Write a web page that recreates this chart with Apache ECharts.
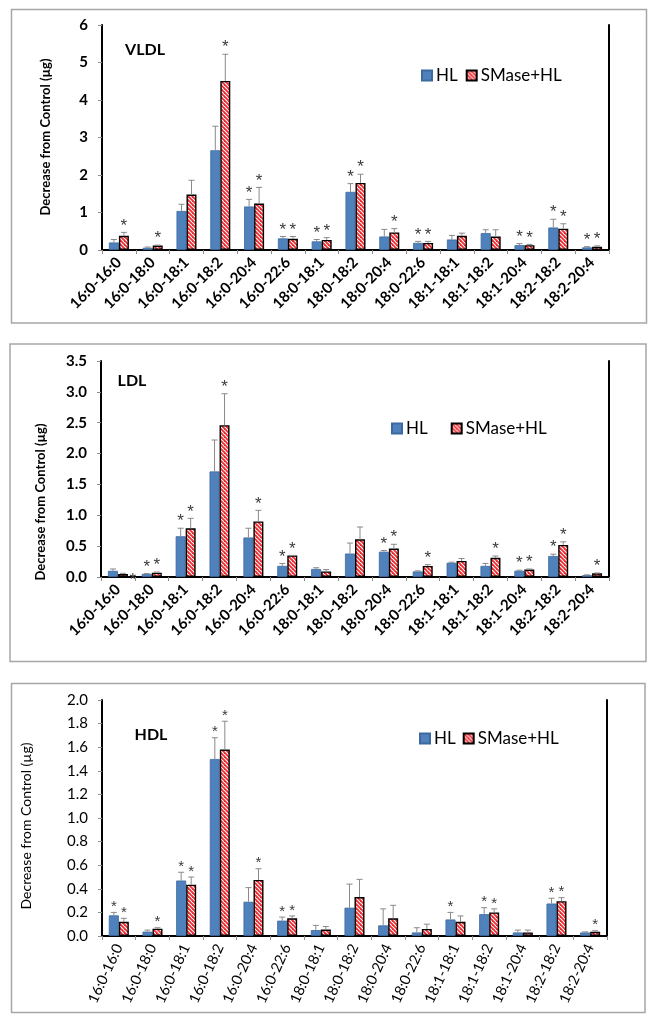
<!DOCTYPE html>
<html><head><meta charset="utf-8">
<script src="https://cdn.jsdelivr.net/npm/echarts@6/dist/echarts.min.js"></script>
<style>html,body{margin:0;padding:0;background:#fff}#c{width:659px;height:1024px}</style>
</head><body><div id="c"></div>
<script>
// ---------- DATA ----------
var categories = ['16:0-16:0','16:0-18:0','16:0-18:1','16:0-18:2','16:0-20:4','16:0-22:6','18:0-18:1','18:0-18:2','18:0-20:4','18:0-22:6','18:1-18:1','18:1-18:2','18:1-20:4','18:2-18:2','18:2-20:4'];
var seriesNames = ['HL','SMase+HL'];

var vldlHL      = [0.20,0.06,1.04,2.66,1.16,0.31,0.23,1.55,0.36,0.19,0.28,0.45,0.13,0.60,0.07];
var vldlHLErr   = [0.28,0.08,1.22,3.30,1.35,0.36,0.28,1.77,0.55,0.23,0.39,0.54,0.17,0.82,0.09];
var vldlHLStar  = [0,0,0,0,1,1,1,1,0,1,0,0,1,1,1];
var vldlSM      = [0.38,0.12,1.48,4.51,1.24,0.30,0.27,1.79,0.47,0.19,0.38,0.36,0.13,0.57,0.09];
var vldlSMErr   = [0.47,0.13,1.86,5.22,1.67,0.36,0.33,2.02,0.57,0.23,0.45,0.54,0.15,0.70,0.11];
var vldlSMStar  = [1,1,0,1,1,1,1,1,1,1,0,0,1,1,1];

var ldlHL       = [0.10,0.05,0.66,1.71,0.64,0.18,0.13,0.38,0.41,0.09,0.23,0.18,0.10,0.34,0.03];
var ldlHLErr    = [0.13,0.055,0.79,2.22,0.79,0.22,0.15,0.55,0.43,0.10,0.24,0.22,0.11,0.37,0.035];
var ldlHLStar   = [0,1,1,0,0,1,0,0,1,0,0,0,1,1,0];
var ldlSM       = [0.05,0.07,0.79,2.46,0.90,0.35,0.09,0.61,0.46,0.18,0.26,0.31,0.12,0.52,0.06];
var ldlSMErr    = [0.06,0.08,0.95,2.97,1.08,0.35,0.12,0.81,0.53,0.20,0.30,0.34,0.13,0.57,0.065];
var ldlSMStar   = [0,1,1,1,1,1,0,0,1,1,0,1,1,1,1];
var ldlLooseStars = [[0, 0]]; // asterisk sitting on the boundary after category index 0, at value 0

var hdlHL       = [0.175,0.037,0.47,1.50,0.29,0.13,0.05,0.24,0.09,0.03,0.14,0.185,0.03,0.275,0.03];
var hdlHLErr    = [0.20,0.05,0.54,1.68,0.41,0.16,0.09,0.44,0.23,0.07,0.20,0.24,0.05,0.32,0.035];
var hdlHLStar   = [1,0,1,1,0,1,0,0,0,0,1,1,0,1,0];
var hdlSM       = [0.12,0.062,0.435,1.58,0.475,0.15,0.055,0.33,0.15,0.06,0.12,0.20,0.03,0.295,0.035];
var hdlSMErr    = [0.15,0.07,0.50,1.82,0.57,0.17,0.08,0.48,0.26,0.10,0.17,0.23,0.05,0.325,0.045];
var hdlSMStar   = [1,1,1,1,1,1,0,0,0,0,0,1,0,1,1];

var vldlTicks = {min:0, max:6, interval:1};
var ldlTicks  = {min:0, max:3.5, interval:0.5};
var hdlTicks  = {min:0, max:2.0, interval:0.2};

// ---------- STYLE ----------
var FONT = 'Lato, "Noto Sans", sans-serif';
var STARFONT = '"Liberation Sans", Arial, sans-serif';
var BAR = 10;
var BLUE = '#4f81bd';
var pat = document.createElement('canvas');
pat.width = 4; pat.height = 4;
(function(){
  var g = pat.getContext('2d');
  g.fillStyle = '#ffffff'; g.fillRect(0,0,4,4);
  g.strokeStyle = '#ee2a2e'; g.lineWidth = 1.8;
  for (var k=-1;k<=1;k++){ g.beginPath(); g.moveTo(k*4-1,-1); g.lineTo(k*4+5,5); g.stroke(); }
})();
var HATCH = {image: pat, repeat: 'repeat'};

var panels = [
  {grid:{left:102, top:25, width:507, height:225}, ticks:vldlTicks, bold:true, dec:0, rot:45, lsize:15, lmargin:10,
   hl:vldlHL, hlErr:vldlHLErr, hlStar:vldlHLStar, sm:vldlSM, smErr:vldlSMErr, smStar:vldlSMStar},
  {grid:{left:101, top:361, width:508, height:216}, ticks:ldlTicks, bold:true, dec:1, rot:45, lsize:15, lmargin:10,
   hl:ldlHL, hlErr:ldlHLErr, hlStar:ldlHLStar, sm:ldlSM, smErr:ldlSMErr, smStar:ldlSMStar},
  {grid:{left:102, top:700, width:505, height:236}, ticks:hdlTicks, bold:false, dec:1, rot:65, lsize:14.5, lmargin:9,
   hl:hdlHL, hlErr:hdlHLErr, hlStar:hdlHLStar, sm:hdlSM, smErr:hdlSMErr, smStar:hdlSMStar}
];

function errRenderer(side, starSize){
  return function(params, api){
    var base = api.coord([api.value(0), api.value(2)]);
    var top = api.coord([api.value(0), api.value(1)]);
    var x = base[0] + side * BAR / 2;
    var ch = [
      {type:'line', shape:{x1:x, y1:base[1], x2:x, y2:top[1]}, style:{stroke:'#8a8a8a', lineWidth:1}},
      {type:'line', shape:{x1:x-3, y1:top[1], x2:x+3, y2:top[1]}, style:{stroke:'#8a8a8a', lineWidth:1}}
    ];
    if (api.value(3)) {
      ch.push({type:'text', x:x, y:top[1]+2, style:{text:'*', font:starSize+'px '+STARFONT, fill:'#3a3a3a', align:'center', verticalAlign:'bottom'}});
    }
    return {type:'group', children:ch};
  };
}

var grids=[], xAxes=[], yAxes=[], series=[];
panels.forEach(function(p, i){
  grids.push(p.grid);
  var fw = p.bold ? 'bold' : 'normal';
  xAxes.push({type:'category', gridIndex:i, data:categories, position:'bottom',
    axisLine:{lineStyle:{color:'#8c8c8c', width:1}},
    axisTick:{show:true, length:4, lineStyle:{color:'#8c8c8c'}},
    axisLabel:{rotate:p.rot, interval:0, margin:p.lmargin, color:'#000', fontSize:p.lsize, fontWeight:fw, fontFamily:FONT}});
  xAxes.push({type:'category', gridIndex:i, data:categories, position:'top',
    axisLine:{lineStyle:{color:'#000', width:2}}, axisTick:{show:false}, axisLabel:{show:false}});
  yAxes.push({type:'value', gridIndex:i, min:p.ticks.min, max:p.ticks.max, interval:p.ticks.interval, position:'left',
    axisLine:{show:true, lineStyle:{color:'#000', width:2}},
    axisTick:{show:true, length:4, lineStyle:{color:'#8c8c8c'}},
    splitLine:{show:false},
    axisLabel:{margin:14, color:'#000', fontSize:15, fontWeight:fw, fontFamily:FONT,
      formatter:(function(d){return function(v){return v.toFixed(d);};})(p.dec)}});
  yAxes.push({type:'value', gridIndex:i, min:p.ticks.min, max:p.ticks.max, interval:p.ticks.interval, position:'right',
    axisLine:{show:true, lineStyle:{color:'#000', width:2}}, axisTick:{show:false}, axisLabel:{show:false}, splitLine:{show:false}});
  var xi = 2*i, yi = 2*i;
  series.push({name:'HL', type:'bar', xAxisIndex:xi, yAxisIndex:yi, data:p.hl, barWidth:BAR, barGap:'0%',
    itemStyle:{color:BLUE, borderColor:'#3d6a9e', borderWidth:0.8}});
  series.push({name:'SMase+HL', type:'bar', xAxisIndex:xi, yAxisIndex:yi, data:p.sm, barWidth:BAR, barGap:'0%',
    itemStyle:{color:HATCH, borderColor:'#000', borderWidth:1.4}});
  var starSize = p.bold ? 17 : 15;
  series.push({type:'custom', xAxisIndex:xi, yAxisIndex:yi, z:5, renderItem:errRenderer(-1, starSize),
    encode:{x:0, y:[1,2]}, silent:true,
    data:categories.map(function(c,k){return [k, p.hlErr[k], p.hl[k], p.hlStar[k]];})});
  series.push({type:'custom', xAxisIndex:xi, yAxisIndex:yi, z:5, renderItem:errRenderer(1, starSize),
    encode:{x:0, y:[1,2]}, silent:true,
    data:categories.map(function(c,k){return [k, p.smErr[k], p.sm[k], p.smStar[k]];})});
});
series.push({type:'custom', xAxisIndex:2, yAxisIndex:2, z:6, silent:true, encode:{x:0, y:1},
  data:ldlLooseStars,
  renderItem:function(params, api){
    var c = api.coord([api.value(0), api.value(1)]);
    var w = api.size([1,0])[0];
    return {type:'text', x:c[0] + w/2 - 2, y:c[1] + 12, style:{text:'*', font:'17px '+STARFONT, fill:'#3a3a3a', align:'center', verticalAlign:'bottom'}};
  }});

function legendAt(left, top, gap){
  return {left:left, top:top, orient:'horizontal', itemWidth:10, itemHeight:10, itemGap:gap, icon:'rect',
    selectedMode:false, data:seriesNames,
    textStyle:{fontSize:17, color:'#000', fontFamily:FONT, padding:[0,0,0,-1]}};
}

function box(x,y,w,h){ return {type:'rect', shape:{x:x,y:y,width:w,height:h}, style:{fill:'none', stroke:'#a6a6a6', lineWidth:1.5}, z:-1}; }
function txt(x,y,s,font,rot){ return {type:'text', x:x, y:y, rotation:rot||0, style:{text:s, font:font, fill:'#000', align:'center', verticalAlign:'middle'}}; }
var yTitle = 'Decrease from Control (\u00b5g)';

var option = {
  animation:false,
  grid:grids, xAxis:xAxes, yAxis:yAxes, series:series,
  legend:[legendAt(416, 62, 8), legendAt(386, 415, 23), legendAt(414, 725, 7)],
  graphic:[
    box(11.5, 9.5, 635, 313.5),
    box(10, 344, 636, 317.5),
    box(11.5, 683.5, 633.5, 329),
    txt(145, 50, 'VLDL', 'bold 16px '+FONT),
    txt(132, 381, 'LDL', 'bold 16px '+FONT),
    txt(151, 735, 'HDL', 'bold 16px '+FONT),
    txt(46, 137, yTitle, 'bold 13px '+FONT, Math.PI/2),
    txt(41, 502, yTitle, 'bold 13px '+FONT, Math.PI/2),
    txt(26, 826, yTitle, '14px '+FONT, Math.PI/2)
  ]
};
var chart = echarts.init(document.getElementById('c'), null, {renderer:'canvas'});
chart.setOption(option);
</script></body></html>
